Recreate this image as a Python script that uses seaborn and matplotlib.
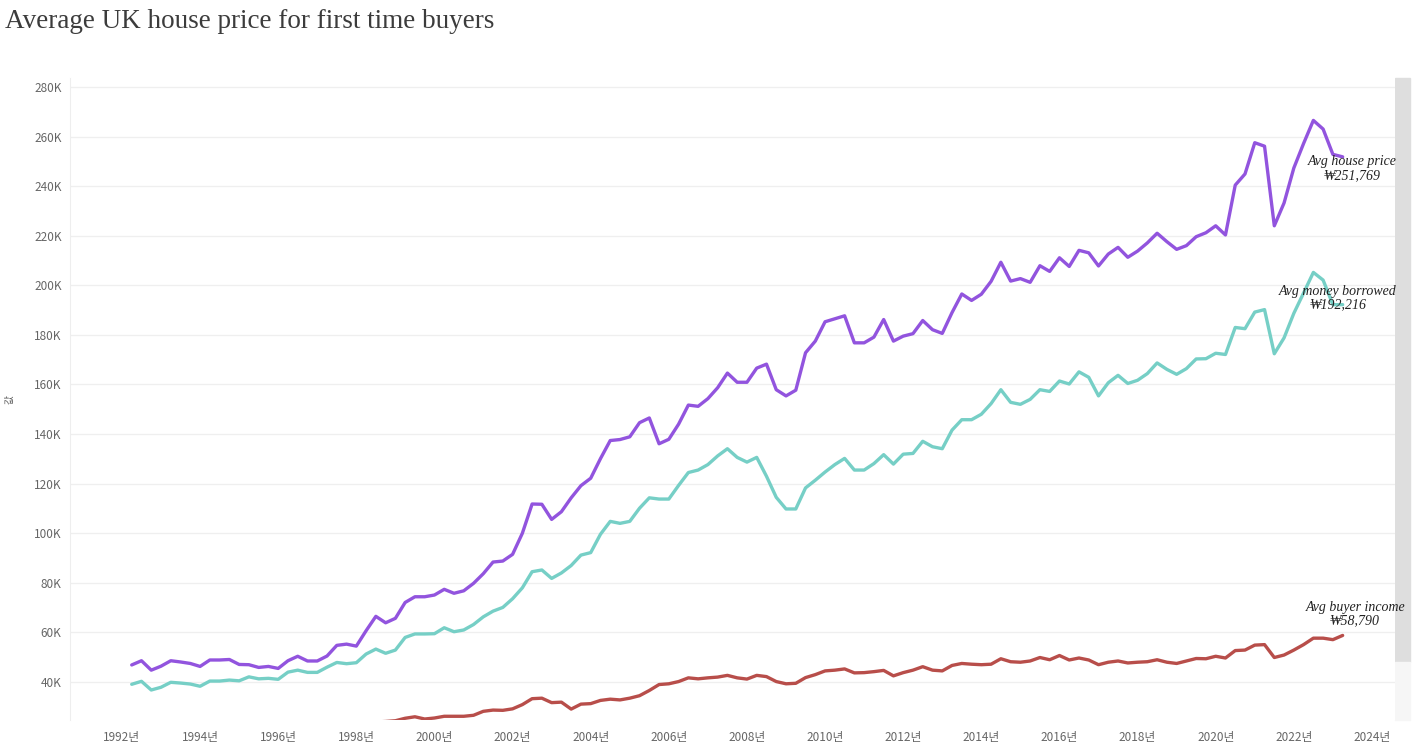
import numpy as np
import pandas as pd
import matplotlib.pyplot as plt
import matplotlib.patches as mpatches
import seaborn as sns

# ── Data (thousands of £, quarterly from 1992 Q2 to 2023 Q2) ────────────────
QUARTERS = [f"{y}Q{q}" for y in range(1992, 2024) for q in range(1, 5)][1:126]

HOUSE_PRICE = [
    46.9, 48.6, 44.8, 46.4, 48.6, 48.1, 47.5, 46.3, 48.9, 48.9, 49.1, 47.1,
    47.0, 45.9, 46.3, 45.5, 48.6, 50.4, 48.5, 48.5, 50.5, 54.8, 55.3, 54.5,
    60.7, 66.5, 63.9, 65.7, 72.1, 74.4, 74.4, 75.1, 77.4, 75.8, 76.8, 79.8,
    83.7, 88.4, 88.8, 91.5, 100.0, 111.8, 111.7, 105.6,
    108.7, 114.3, 119.2, 122.2, 130.1, 137.4, 137.8, 138.9, 144.6, 146.5, 136.1, 137.9,
    144.0, 151.7, 151.2, 154.3, 158.7, 164.6, 160.9, 160.9, 166.6, 168.2, 157.9, 155.4,
    157.7, 172.8, 177.5, 185.3, 186.5, 187.7, 176.8, 176.8, 179.1, 186.2, 177.5, 179.5,
    180.5, 185.8, 182.1, 180.6, 189.0, 196.5, 193.9, 196.4,
    201.6, 209.3, 201.7, 202.7, 201.2, 207.9, 205.6, 211.1, 207.6, 214.1, 213.1, 207.8,
    212.6, 215.3, 211.3, 213.8, 217.1, 221.0, 217.6, 214.5, 216.0, 219.6, 221.2, 224.0,
    220.3, 240.4, 244.9, 257.5, 256.1, 224.0, 233.2, 247.3, 257.2, 266.5, 263.0, 252.8,
    251.8,
]

MONEY_BORROWED = [
    39.1, 40.3, 36.8, 37.9, 39.9, 39.6, 39.2, 38.3, 40.4, 40.4, 40.8, 40.5,
    42.1, 41.3, 41.5, 41.1, 44.0, 44.8, 43.9, 43.9, 46.0, 47.9, 47.4, 47.8,
    51.3, 53.3, 51.6, 52.9, 58.0, 59.4, 59.4, 59.5, 61.9, 60.3, 61.0, 63.2,
    66.3, 68.6, 70.1, 73.6, 78.0, 84.5, 85.2, 81.8,
    84.0, 87.0, 91.2, 92.2, 99.6, 104.8, 104.0, 104.8, 110.1, 114.3, 113.8, 113.8,
    119.3, 124.5, 125.5, 127.7, 131.2, 134.1, 130.6, 128.7, 130.6, 123.0, 114.5, 109.8,
    109.8, 118.3, 121.4, 124.7, 127.7, 130.2, 125.5, 125.5, 128.1, 131.7, 127.9, 131.9,
    132.2, 137.1, 134.9, 134.1, 141.6, 145.8, 145.8, 148.0,
    152.3, 157.9, 152.8, 152.0, 154.0, 157.9, 157.2, 161.4, 160.2, 165.1, 162.9, 155.4,
    160.7, 163.7, 160.4, 161.7, 164.4, 168.7, 166.1, 164.1, 166.4, 170.3, 170.4, 172.6,
    172.1, 183.0, 182.5, 189.2, 190.2, 172.4, 178.8, 188.7, 196.9, 205.2, 202.1, 192.2,
    192.2,
]

BUYER_INCOME = [
    18.6, 18.8, 18.5, 18.7, 19.0, 19.1, 19.2, 19.1, 19.5, 19.6, 19.8, 19.9,
    20.1, 20.3, 20.4, 20.6, 21.0, 21.4, 21.5, 21.7, 22.1, 22.6, 22.9, 23.1,
    23.5, 23.9, 24.1, 24.4, 25.4, 26.0, 25.1, 25.5, 26.2, 26.2, 26.2, 26.6,
    28.2, 28.7, 28.6, 29.2, 30.9, 33.3, 33.5, 31.7,
    31.9, 29.1, 31.1, 31.3, 32.6, 33.1, 32.8, 33.5, 34.5, 36.6, 39.0, 39.3,
    40.2, 41.7, 41.3, 41.7, 42.0, 42.7, 41.7, 41.2, 42.7, 42.2, 40.2, 39.3,
    39.5, 41.8, 43.0, 44.5, 44.8, 45.3, 43.7, 43.8, 44.2, 44.7, 42.5, 43.8,
    44.8, 46.2, 44.8, 44.5, 46.7, 47.5, 47.2, 47.0,
    47.2, 49.4, 48.2, 48.0, 48.5, 49.9, 49.0, 50.7, 48.9, 49.7, 48.9, 47.0,
    48.0, 48.5, 47.7, 48.0, 48.2, 49.0, 48.0, 47.5, 48.5, 49.5, 49.4, 50.4,
    49.7, 52.7, 52.9, 54.9, 55.1, 49.9, 50.9, 52.9, 55.1, 57.7, 57.7, 57.1,
    58.8,
]

SERIES_NAMES = ["Avg house price", "Avg money borrowed", "Avg buyer income"]
SERIES_VALUES = [HOUSE_PRICE, MONEY_BORROWED, BUYER_INCOME]
COLORS = ["#9254de", "#76cfc6", "#b84e4a"]
END_LABELS = ["₩251,769", "₩192,216", "₩58,790"]

YEAR_TICKS = list(range(1992, 2025, 2))
Y_TICKS = list(range(40, 281, 20))

# ── Build long table ────────────────────────────────────────────────────────
periods = pd.PeriodIndex(QUARTERS, freq="Q")
t = periods.year + (periods.quarter - 1) / 4.0
frames = []
for name, vals in zip(SERIES_NAMES, SERIES_VALUES):
    frames.append(pd.DataFrame({"t": t, "value": vals, "series": name}))
df = pd.concat(frames, ignore_index=True)

# ── Plot ────────────────────────────────────────────────────────────────────
sns.set_style("white")
plt.rcParams["font.family"] = ["Noto Sans CJK KR", "DejaVu Sans"]

fig = plt.figure(figsize=(14.22, 7.55), dpi=100)

# scrollbar strip on the right (behind the axes so the end labels sit on top)
fig.patches.append(mpatches.Rectangle((1395 / 1422, (755 - 662) / 755), 15 / 1422, 584 / 755,
                                      transform=fig.transFigure, color="#dedede", zorder=-1))
fig.patches.append(mpatches.Rectangle((1395 / 1422, 35 / 755), 15 / 1422, 58 / 755,
                                      transform=fig.transFigure, color="#f6f6f6", zorder=-1))

ax = fig.add_axes([70 / 1422, 35 / 755, 1325 / 1422, 642 / 755])

sns.lineplot(data=df, x="t", y="value", hue="series", palette=COLORS,
             hue_order=SERIES_NAMES, linewidth=2.4, legend=False, ax=ax)

ax.set_xlim(1990.67, 2024.59)
ax.set_ylim(24.7, 283.6)
ax.set_xticks(YEAR_TICKS)
ax.set_xticklabels([f"{y}년" for y in YEAR_TICKS])
ax.set_yticks(Y_TICKS)
ax.set_yticklabels([f"{v}K" for v in Y_TICKS])
ax.tick_params(axis="both", labelsize=8.5, colors="#666666", length=0, pad=6)
ax.tick_params(axis="x", length=4, color="#dddddd", direction="out", pad=4)
ax.grid(axis="y", color="#efefef", linewidth=0.9)
for side in ["top", "right", "bottom"]:
    ax.spines[side].set_visible(False)
ax.spines["left"].set_color("#eeeeee")
ax.set_xlabel("")
ax.set_ylabel("값", fontsize=7, color="#555555", labelpad=14)

serif = ["Liberation Serif", "DejaVu Serif"]
lab_pos = [(2023.49, 250.1, 244.4), (2023.13, 197.7, 192.0), (2023.57, 70.2, 64.6)]
for (x, y1, y2), name, val in zip(lab_pos, SERIES_NAMES, END_LABELS):
    ax.text(x, y1, name, ha="center", va="center", fontsize=10,
            style="italic", family=serif, color="#222222", clip_on=False, zorder=10)
    ax.text(x, y2, val, ha="center", va="center", fontsize=10,
            style="italic", family=serif, color="#222222", clip_on=False, zorder=10)

fig.text(5 / 1422, 1 - 22 / 755, "Average UK house price for first time buyers",
         ha="left", va="center", fontsize=19.5, family=["Liberation Serif", "DejaVu Serif"],
         color="#3c3c3c")

plt.savefig("out.png", dpi=100, facecolor="white")
